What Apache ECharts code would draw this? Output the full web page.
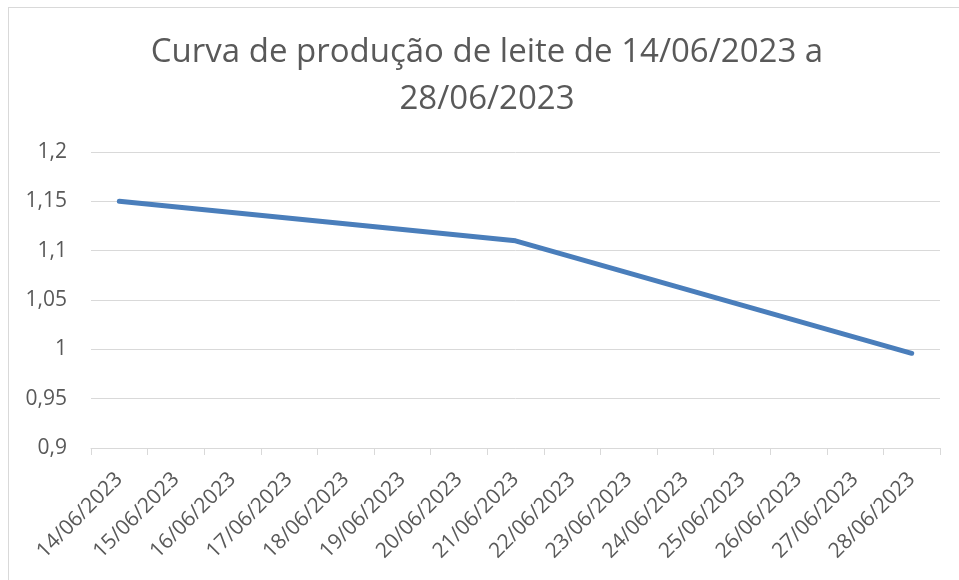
<!DOCTYPE html>
<html>
<head>
<meta charset="utf-8">
<script src="https://cdn.jsdelivr.net/npm/echarts@6/dist/echarts.min.js"></script>
<style>
  html, body { margin: 0; padding: 0; background: #fff; overflow: hidden; width: 959px; height: 580px; }
  #frame {
    position: absolute; left: 8px; top: 7px; width: 951px; height: 573px;
    border-left: 1px solid #d9d9d9; border-top: 1px solid #d9d9d9; box-sizing: border-box;
  }
  #chart { position: absolute; left: 0; top: 0; width: 959px; height: 580px; }
</style>
</head>
<body>
<div id="frame"></div>
<div id="chart"></div>
<script>
// category labels (one per day)
const dates = [
  "14/06/2023", "15/06/2023", "16/06/2023", "17/06/2023", "18/06/2023",
  "19/06/2023", "20/06/2023", "21/06/2023", "22/06/2023", "23/06/2023",
  "24/06/2023", "25/06/2023", "26/06/2023", "27/06/2023", "28/06/2023"
];
// only three days have a reading, the rest are gaps joined by the line
const production = [
  1.15, null, null, null, null, null, null, 1.11,
  null, null, null, null, null, null, 0.996
];
const titleText = "Curva de produção de leite de 14/06/2023 a\n28/06/2023";

const chart = echarts.init(document.getElementById("chart"));
const font = "'Open Sans', sans-serif";

chart.setOption({
  animation: false,
  title: {
    text: titleText,
    left: 482,
    top: 24,
    textAlign: "center",
    textStyle: {
      color: "#595959",
      fontSize: 33,
      fontWeight: "normal",
      fontFamily: font,
      lineHeight: 47,
    },
  },
  grid: { left: 91, right: 19, top: 152, bottom: 132 },
  xAxis: {
    type: "category",
    data: dates,
    boundaryGap: true,
    axisLine: { lineStyle: { color: "#d9d9d9", width: 1 } },
    axisTick: { show: true, length: 7, lineStyle: { color: "#d9d9d9" } },
    axisLabel: {
      rotate: 45,
      interval: 0,
      color: "#595959",
      fontSize: 21,
      fontFamily: font,
      margin: 28,
    },
  },
  yAxis: {
    type: "value",
    min: 0.9,
    max: 1.2,
    interval: 0.05,
    axisLine: { show: false },
    axisTick: { show: false },
    splitLine: { lineStyle: { color: "#d9d9d9", width: 1 } },
    axisLabel: {
      color: "#595959",
      fontSize: 21,
      fontFamily: font,
      margin: 24,
      formatter: (v) => String(Math.round(v * 100) / 100).replace(".", ","),
    },
  },
  series: [
    {
      type: "line",
      data: production,
      connectNulls: true,
      showSymbol: false,
      lineStyle: { color: "#4a7ebb", width: 5, cap: "round", join: "round" },
    },
  ],
});
</script>
</body>
</html>
